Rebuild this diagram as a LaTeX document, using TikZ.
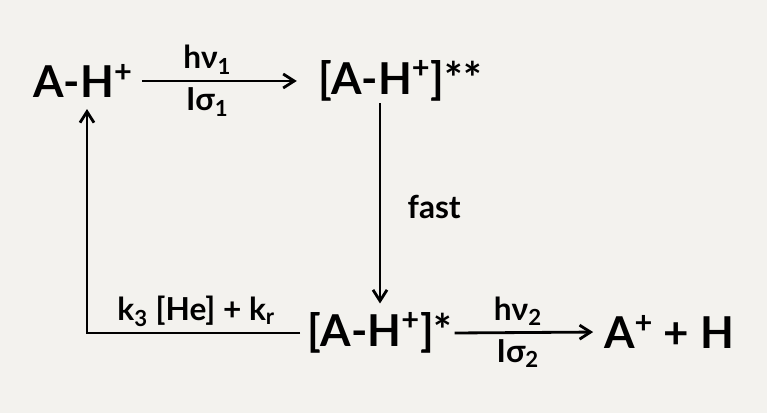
\documentclass[tikz,border=0pt]{standalone}
\usepackage{fontspec}
\setmainfont{Lato}
\usetikzlibrary{arrows.meta,calc,positioning}
\definecolor{PaperBg}{HTML}{F3F2EE}
\tikzset{
  rx species/.style={
    font=\fontsize{25}{30}\selectfont\bfseries,
    inner sep=1pt,
    anchor=center
  },
  rx label/.style={
    font=\fontsize{18}{21}\selectfont\bfseries,
    inner sep=3pt
  },
  rx arrow/.style={
    -{Straight Barb[length=2.2mm,width=2.8mm]},
    draw=black,
    line width=1.6pt
  }
}

\begin{document}
\begin{tikzpicture}
        \useasboundingbox (0,0) rectangle (15.34,8.26);
        \fill[PaperBg] (0,0) rectangle (15.34,8.26);

        \node[rx species] (ah) at (1.66,6.64) {A-H\textsuperscript{+}};
        \node[rx species] (ahss) at (8.0,6.64) {[A-H\textsuperscript{+}]**};
        \node[rx species] (ahs) at (7.6,1.6) {[A-H\textsuperscript{+}]*};
        \node[rx species] (prod) at (13.38,1.62) {A\textsuperscript{+} + H};

        \draw[rx arrow,shorten <=4pt,shorten >=11pt] (ah.east) -- node[rx label,above,pos=0.4]{hν\textsubscript{1}} node[rx label,below,pos=0.4]{Iσ\textsubscript{1}} (ahss.west);
        \draw[rx arrow,shorten >=4pt] (ahss.south -| ahs.north) -- node[rx label,right=0.42cm]{fast} (ahs.north);
        \draw[rx arrow,shorten >=5pt] (ahs.east) -- node[rx label,above,pos=0.43]{hν\textsubscript{2}} node[rx label,below,pos=0.43]{Iσ\textsubscript{2}} (prod.west);
        \draw[rx arrow,shorten <=3pt] (ahs.west) -- node[rx label,above]{k\textsubscript{3} [He] + k\textsubscript{r}} ($(ah.south |- ahs.west)+(0.08,0)$) -- ($(ah.south)+(0.08,-0.18)$);
      \end{tikzpicture}
\end{document}
